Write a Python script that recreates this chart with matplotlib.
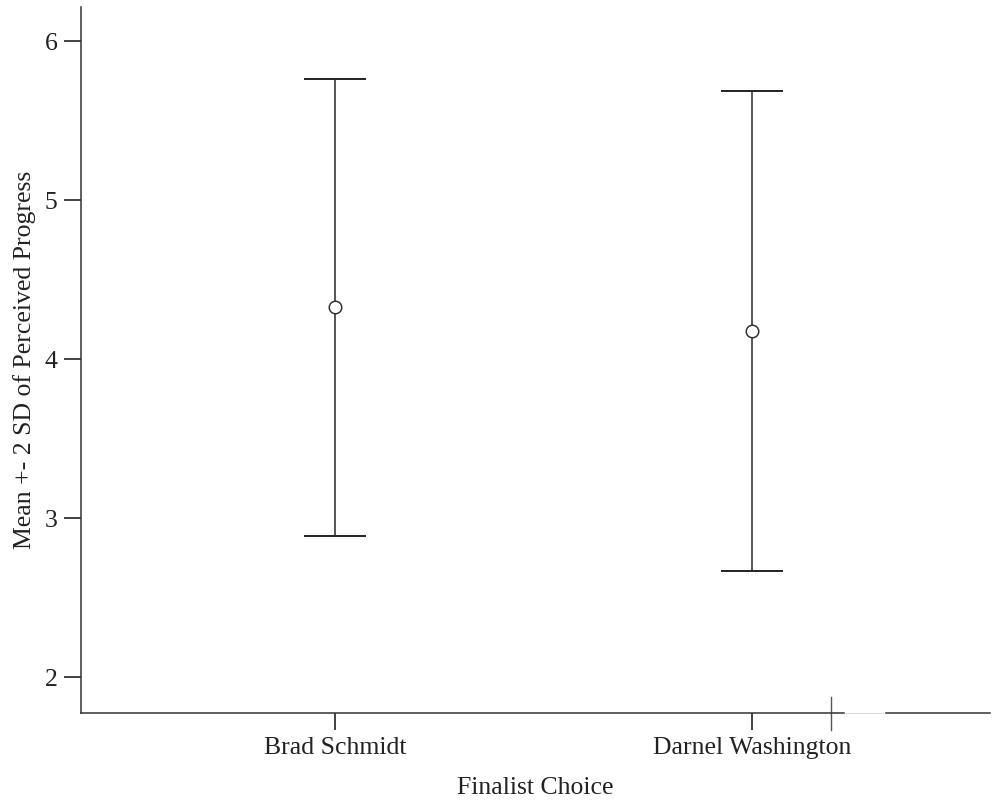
import matplotlib
matplotlib.use("Agg")
import matplotlib.pyplot as plt

# values
finalists = ["Brad Schmidt", "Darnel Washington"]
means = [4.327, 4.176]
upper = [5.761, 5.686]
lower = [2.887, 2.667]
yticks = [2, 3, 4, 5, 6]

plt.rcParams["font.family"] = ["Liberation Serif", "DejaVu Serif"]

fig = plt.figure(figsize=(9.95, 8.01), dpi=100)
ax = fig.add_axes([81 / 995, 1 - 713 / 801, 909 / 995, 706 / 801])

xs = list(range(1, len(finalists) + 1))
for x, m, lo, hi in zip(xs, means, lower, upper):
    ax.vlines(x, lo, hi, color="#555555", lw=1.4)
    ax.hlines([lo, hi], x - 0.075, x + 0.075, color="#222222", lw=1.4)
    ax.plot(x, m, marker="o", ms=9, mfc="white", mec="#333333", mew=1.1, ls="none")

# odd little cross and gap near the right end of the x axis
ax.plot([2.19, 2.19], [1.774 - 0.11, 1.774 + 0.10], color="#555555", lw=1.0, clip_on=False)
ax.plot([2.225, 2.315], [1.774, 1.774], color="white", lw=2.5, clip_on=False, zorder=5)
ax.plot([2.225, 2.315], [1.774, 1.774], color="#dddddd", lw=0.8, clip_on=False, zorder=6)

ax.set_xlim(0.391, 2.571)
ax.set_ylim(1.774, 6.214)
ax.set_xticks(xs)
ax.set_xticklabels(finalists)
ax.set_yticks(yticks)

for s in ["top", "right"]:
    ax.spines[s].set_visible(False)
for s in ["left", "bottom"]:
    ax.spines[s].set_color("#333333")
    ax.spines[s].set_linewidth(1.1)

ax.tick_params(direction="out", length=12, width=1.3, color="#333333",
               labelsize=18.5, labelcolor="#222222", pad=5)

ax.set_xlabel("Finalist Choice", fontsize=18.5, color="#222222", labelpad=13)
ax.set_ylabel("Mean +- 2 SD of Perceived Progress", fontsize=18.5, color="#222222", labelpad=6)

fig.savefig("out.png", dpi=100)
